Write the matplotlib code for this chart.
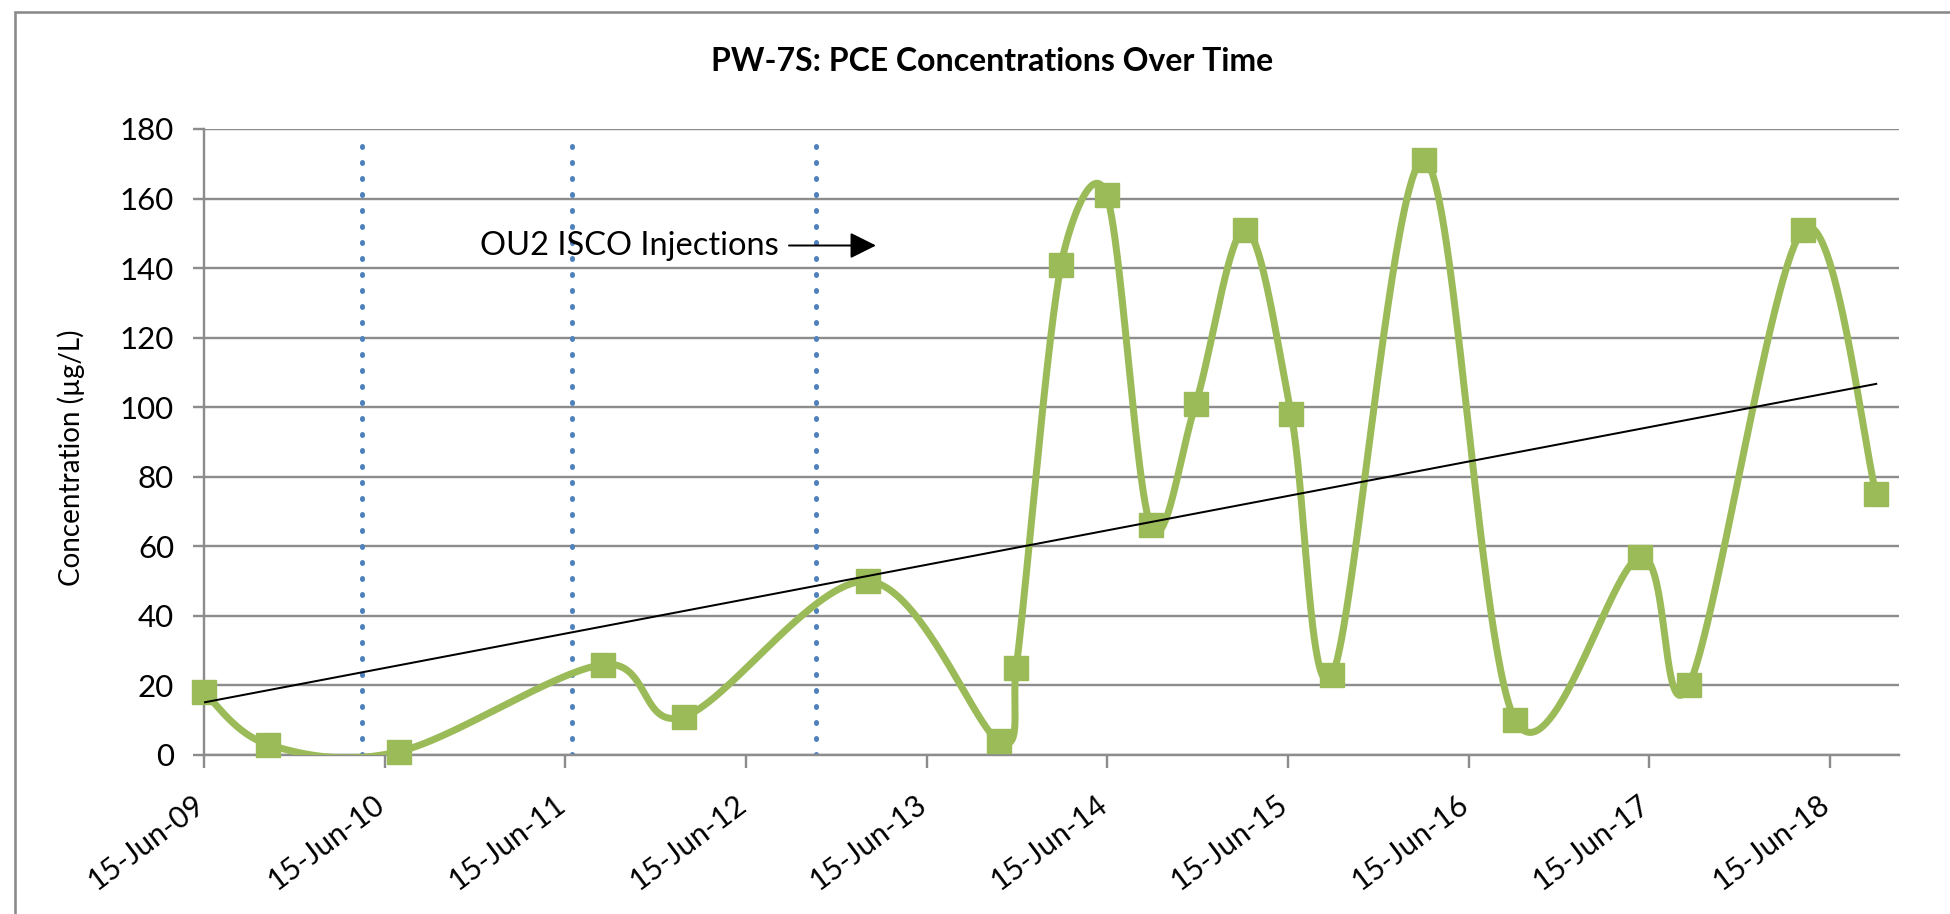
import numpy as np
import matplotlib
matplotlib.use("Agg")
import matplotlib.pyplot as plt
import matplotlib.dates as mdates
from matplotlib.patches import Rectangle
from matplotlib.transforms import ScaledTranslation

# ---- data -------------------------------------------------------------
sample_dates = [
    "2009-06-15", "2009-10-23", "2010-07-15", "2011-08-31", "2012-02-10",
    "2013-02-17", "2013-11-08", "2013-12-13", "2014-03-14", "2014-06-14",
    "2014-09-11", "2014-12-11", "2015-03-21", "2015-06-22", "2015-09-13",
    "2016-03-17", "2016-09-17", "2017-05-28", "2017-09-03", "2018-04-22",
    "2018-09-17",
]
pce_ugL = [18, 3, 1, 26, 11, 50, 4, 25, 141, 161, 66, 101, 151, 98, 23,
           171, 10, 57, 20, 151, 75]
injection_dates = ["2010-05-01", "2011-06-30", "2012-11-04"]
y_ticks = [0, 20, 40, 60, 80, 100, 120, 140, 160, 180]
x_start, x_end = "2009-06-15", "2018-11-02"

title = "PW-7S: PCE Concentrations Over Time"
y_label = "Concentration (\u00b5g/L)"
note = "OU2 ISCO Injections"

# ---- style ------------------------------------------------------------
W, H, DPI = 1950, 914, 100
PX = 72.0 / DPI                      # points per pixel
FONT = ["Lato", "DejaVu Sans"]
GREEN = "#9BBB59"
BLUE = "#4F81BD"
GRID = "#8C8C8C"
plt.rcParams["font.family"] = FONT


def fx(px):
    return px / W


def fy(py):
    return 1 - py / H


fig = plt.figure(figsize=(W / DPI, H / DPI), dpi=DPI)
fig.patch.set_facecolor("white")

# chart border (runs off the right and bottom edges)
fig.patches.append(Rectangle((fx(15), -0.1), 2, fy(12) + 0.1,
                             transform=fig.transFigure, fill=False,
                             edgecolor="#8A8A8A", lw=2.6 * PX, zorder=0))

ax = fig.add_axes([fx(204), fy(755), fx(1899 - 204), (755 - 129) / H])

x = mdates.datestr2num(sample_dates)
y = np.asarray(pce_ugL, dtype=float)

ax.set_xlim(mdates.datestr2num(x_start), mdates.datestr2num(x_end))
ax.set_ylim(0, 180)

# grid and axes
ax.set_yticks(y_ticks)
ax.yaxis.grid(True, color=GRID, lw=2.4 * PX)
ax.set_axisbelow(True)
for side in ("top", "right"):
    ax.spines[side].set_visible(False)
for side in ("left", "bottom"):
    ax.spines[side].set_color(GRID)
    ax.spines[side].set_linewidth(2.4 * PX)

ax.xaxis.set_major_locator(mdates.YearLocator(1, month=6, day=15))
ax.xaxis.set_major_formatter(mdates.DateFormatter("%d-%b-%y"))
ax.tick_params(axis="y", direction="out", length=11 * PX, width=2.4 * PX,
               color=GRID, pad=19 * PX, labelsize=22.5, labelcolor="black")
ax.tick_params(axis="x", direction="out", length=13 * PX, width=2.4 * PX,
               color=GRID, pad=22 * PX, labelsize=21.5, labelcolor="black")
nudge = ScaledTranslation(5 / DPI, 0, fig.dpi_scale_trans)
for lbl in ax.get_xticklabels():
    lbl.set_rotation(37)
    lbl.set_ha("right")
    lbl.set_transform(lbl.get_transform() + nudge)

# injection events (dotted verticals)
for d in mdates.datestr2num(injection_dates):
    ax.plot([d, d], [0, 178], color=BLUE, lw=5 * PX,
            linestyle=(0, (0.2, 3.0)), dash_capstyle="round", zorder=2)


# smoothed line through the samples, built in display space:
# cubic Bezier segments, tangent 1/6 of the neighbour chord, capped at
# half of the segment length
def smooth_curve(pts, n=80):
    pts = np.asarray(pts, dtype=float)
    out = [pts[0]]
    m = len(pts)
    t = np.linspace(0, 1, n)[1:, None]
    for i in range(m - 1):
        p0 = pts[i - 1] if i > 0 else pts[i]
        p1, p2 = pts[i], pts[i + 1]
        p3 = pts[i + 2] if i + 2 < m else p2
        d12 = np.hypot(*(p2 - p1))
        d02 = np.hypot(*(p2 - p0))
        d13 = np.hypot(*(p3 - p1))
        f1 = 1 / 6.0 if d02 / 6.0 <= d12 / 2.0 else d12 / (2.0 * d02)
        f2 = 1 / 6.0 if d13 / 6.0 <= d12 / 2.0 else d12 / (2.0 * d13)
        c1 = p1 + (p2 - p0) * f1
        c2 = p2 - (p3 - p1) * f2
        seg = ((1 - t) ** 3 * p1 + 3 * (1 - t) ** 2 * t * c1
               + 3 * (1 - t) * t ** 2 * c2 + t ** 3 * p2)
        out.extend(seg)
    return np.array(out)


disp = ax.transData.transform(np.column_stack([x, y]))
curve = ax.transData.inverted().transform(smooth_curve(disp))
ax.plot(curve[:, 0], curve[:, 1], color=GREEN, lw=7 * PX,
        solid_capstyle="round", zorder=3)
ax.plot(x, y, "s", ms=17.5, color=GREEN, clip_on=False, zorder=4)

# linear trend
slope, icept = np.polyfit(x, y, 1)
tx = np.array([x[0], x[-1]])
ax.plot(tx, slope * tx + icept, color="black", lw=2 * PX, zorder=5)

# texts
fig.text(fx(992), fy(71), title, ha="center", va="baseline",
         fontsize=23, fontweight="bold")
fig.text(fx(71), fy(458), y_label, rotation=90, ha="center", va="center",
         fontsize=20)
fig.text(fx(480), fy(255), note, ha="left", va="baseline", fontsize=23.5)
ax.annotate("", xy=(fx(876), fy(245.5)), xytext=(fx(789), fy(245.5)),
            xycoords="figure fraction", textcoords="figure fraction",
            arrowprops=dict(arrowstyle="-|>,head_length=0.4,head_width=0.2",
                            color="black", lw=2 * PX, mutation_scale=40,
                            shrinkA=0, shrinkB=0))

fig.savefig("out.png", dpi=DPI)
